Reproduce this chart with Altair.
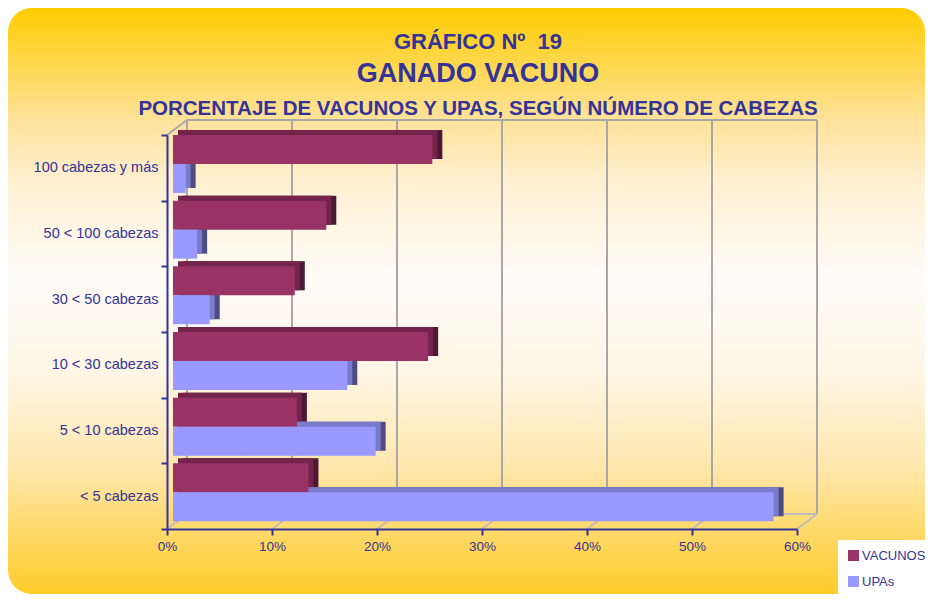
import altair as alt
import pandas as pd

# ---------------- data ----------------
categories = ["100 cabezas y más", "50 < 100 cabezas", "30 < 50 cabezas",
              "10 < 30 cabezas", "5 < 10 cabezas", "< 5 cabezas"]
series_names = ["VACUNOS", "UPAs"]
vacunos_pct = [24.7, 14.6, 11.6, 24.3, 11.8, 12.9]
upas_pct = [1.2, 2.3, 3.5, 16.6, 19.3, 57.2]
x_ticks = [0, 10, 20, 30, 40, 50, 60]
titles = ["GRÁFICO Nº \u00a019", "GANADO VACUNO",
          "PORCENTAJE DE VACUNOS Y UPAS, SEGÚN NÚMERO DE CABEZAS"]

# ---------------- layout / style ----------------
W, H = 630, 394
PAD_L, PAD_T = 159, 127
TOT_W, TOT_H = 917, 586
PAD_R = TOT_W - PAD_L - W
PAD_B = TOT_H - PAD_T - H
NAVY = "#333399"
FONT = "Liberation Sans"
FRONT = ["#993366", "#9999FF"]
TOP = ["#74234C", "#7A7ACB"]
SIDE = ["#4B1933", "#4D4D80"]
GRID = "#a8a8a8"
STEP = H / len(categories)
BAR_H = 29
BAR_DX, BAR_DY = 10, 5
WALL_DX, WALL_DY = 20, 15
BASE_DX = 6
CENTER_OFF = [BAR_H / 2 - STEP / 2, 1.5 * BAR_H - STEP / 2]

df = pd.DataFrame({
    "cat": categories * 2,
    "series": [series_names[0]] * len(categories) + [series_names[1]] * len(categories),
    "value": vacunos_pct + upas_pct,
})
ticks_df = pd.DataFrame({"tick": x_ticks})
span_df = pd.DataFrame({"lo": [x_ticks[0]], "hi": [x_ticks[-1]]})
one_df = pd.DataFrame({"k": [0]})

x_scale = alt.Scale(domain=[x_ticks[0], x_ticks[-1]], nice=False, zero=True)
y_scale = alt.Scale(domain=categories, paddingInner=0, paddingOuter=0)

x_axis = alt.Axis(values=x_ticks, labelExpr="datum.value + '%'", title=None, grid=False,
                  domainColor=NAVY, domainWidth=2, tickColor=NAVY, tickWidth=2, tickSize=6,
                  labelColor=NAVY, labelFont=FONT, labelFontSize=13.5, labelPadding=4,
                  labelFlush=False, zindex=1)
y_axis = alt.Axis(title=None, grid=False, tickBand="extent",
                  domainColor=NAVY, domainWidth=2, tickColor=NAVY, tickWidth=2, tickSize=6,
                  labelColor=NAVY, labelFont=FONT, labelFontSize=14.5, labelPadding=3,
                  labelLimit=250, zindex=1)


def X(field):
    return alt.X(f"{field}:Q", scale=x_scale, axis=x_axis)


def Y(field):
    return alt.Y(f"{field}:N", scale=y_scale, axis=y_axis, sort=categories)


color_enc = alt.Color(
    "series:N",
    scale=alt.Scale(domain=series_names, range=FRONT),
    legend=alt.Legend(title=None, orient="none", legendX=671, legendY=405,
                      fillColor="white", padding=9, symbolType="square",
                      symbolSize=121, symbolStrokeWidth=0, labelColor=NAVY,
                      labelFont=FONT, labelFontSize=13, labelOffset=2,
                      rowPadding=12, zindex=1),
)

# ---------------- background ----------------
gradient = alt.LinearGradient(
    gradient="linear", x1=0, x2=0, y1=0, y2=1,
    stops=[
        alt.GradientStop(offset=0.0, color="#FFCC00"),
        alt.GradientStop(offset=0.19, color="#FFE29A"),
        alt.GradientStop(offset=0.30, color="#FFF0D2"),
        alt.GradientStop(offset=0.46, color="#FFFCF7"),
        alt.GradientStop(offset=0.62, color="#FFF6E6"),
        alt.GradientStop(offset=0.78, color="#FFE7AE"),
        alt.GradientStop(offset=0.90, color="#FFD865"),
        alt.GradientStop(offset=1.0, color="#FFCC2A"),
    ],
)
bg = alt.Chart(one_df).mark_rect(color=gradient, cornerRadius=24).encode(
    x=alt.value(-PAD_L), x2=alt.value(W + PAD_R),
    y=alt.value(-PAD_T), y2=alt.value(H + PAD_B),
)

# ---------------- 3D frame (back wall & floor) ----------------
wall_grid = alt.Chart(ticks_df).mark_rule(color=GRID, strokeWidth=2, xOffset=WALL_DX).encode(
    x=X("tick"), y=alt.value(-WALL_DY), y2=alt.value(H - WALL_DY))
floor_diag = alt.Chart(ticks_df).mark_rule(color="#bdbdbd", strokeWidth=2, x2Offset=WALL_DX).encode(
    x=X("tick"), x2="tick:Q", y=alt.value(H), y2=alt.value(H - WALL_DY))
top_edge = alt.Chart(span_df).mark_rule(color=GRID, strokeWidth=2, xOffset=WALL_DX, x2Offset=WALL_DX).encode(
    x=X("lo"), x2="hi:Q", y=alt.value(-WALL_DY))
floor_edge = alt.Chart(span_df).mark_rule(color="#bdbdbd", strokeWidth=2, xOffset=WALL_DX, x2Offset=WALL_DX).encode(
    x=X("lo"), x2="hi:Q", y=alt.value(H - WALL_DY))
corner_diag = alt.Chart(span_df).mark_rule(color=GRID, strokeWidth=2, x2Offset=WALL_DX).encode(
    x=X("lo"), x2="lo:Q", y=alt.value(0), y2=alt.value(-WALL_DY))

# ---------------- bars ----------------
back_layers = []
front_layers = []
for i, s in enumerate(series_names):
    base = alt.Chart(df).transform_filter(alt.datum.series == s)
    side = base.mark_bar(color=SIDE[i], height=BAR_H,
                         xOffset=BASE_DX + BAR_DX, x2Offset=BASE_DX + BAR_DX,
                         yOffset=CENTER_OFF[i] - BAR_DY).encode(x=X("value"), y=Y("cat"))
    top = base.mark_bar(color=TOP[i], height=BAR_H,
                        xOffset=BASE_DX + BAR_DX / 2, x2Offset=BASE_DX + BAR_DX / 2,
                        yOffset=CENTER_OFF[i] - BAR_DY).encode(x=X("value"), y=Y("cat"))
    front = base.mark_bar(height=BAR_H, xOffset=BASE_DX, x2Offset=BASE_DX,
                          yOffset=CENTER_OFF[i]).encode(x=X("value"), y=Y("cat"), color=color_enc)
    back_layers += [side, top]
    front_layers.append(front)


# ---------------- titles ----------------
def title_layer(text, size, y):
    return alt.Chart(pd.DataFrame({"t": [text]})).mark_text(
        font=FONT, fontSize=size, fontWeight="bold", color=NAVY,
        align="center", baseline="alphabetic").encode(
        text="t:N", x=alt.value(311), y=alt.value(y))


t1 = title_layer(titles[0], 22, -86)
t2 = title_layer(titles[1], 27, -53)
t3 = title_layer(titles[2], 20.5, -20)

chart = alt.layer(
    bg, wall_grid, floor_diag, top_edge, floor_edge, corner_diag,
    *back_layers, *front_layers, t1, t2, t3,
).properties(
    width=W, height=H,
    padding={"left": PAD_L, "top": PAD_T, "right": PAD_R, "bottom": PAD_B},
    autosize=alt.AutoSizeParams(type="none"),
    background="white",
).configure_view(stroke=None)

chart.save("out.html", embed_options={"renderer": "svg", "actions": False})
